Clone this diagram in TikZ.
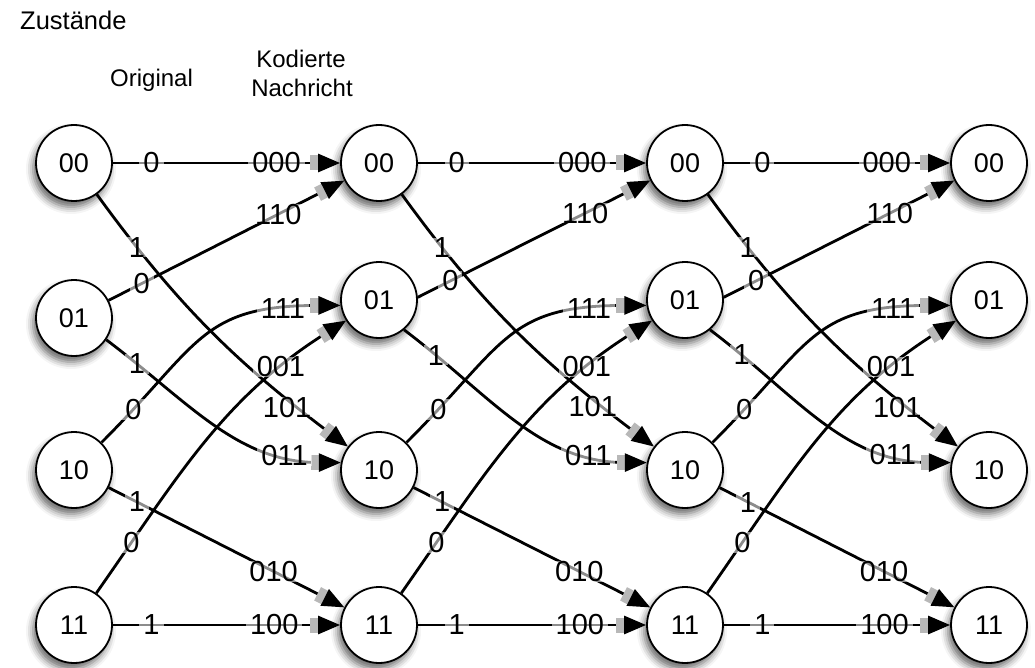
\documentclass[tikz,border=0pt]{standalone}
\usepackage{fontspec}
\setmainfont{Liberation Sans}
\usetikzlibrary{arrows.meta,shadows.blur}
\tikzset{
  state/.style={circle,draw=black,line width=1.8pt,fill=white,minimum size=76pt,inner sep=0pt,
    font=\fontsize{27}{28}\selectfont,
    blur shadow={shadow xshift=-3pt,shadow yshift=-6pt,shadow blur radius=7pt,shadow opacity=60}},
  edge/.style={line width=2.8pt,-{Rectangle[black!28,length=9pt,width=15pt,sep=-1pt]Triangle[length=22pt,width=18pt]}},
  lab/.style={fill=white,fill opacity=0.55,text opacity=1,inner xsep=4pt,inner ysep=0pt,
    font=\fontsize{29}{30}\selectfont},
  title/.style={inner sep=0pt}
}
\begin{document}
\begin{tikzpicture}[x=1pt,y=-1pt]
\useasboundingbox (0,0) rectangle (1035,668);
\node[title,anchor=base west,font=\fontsize{25.5}{28}\selectfont] (zust) at (20,30) {Zustände};
\node[title,anchor=base west,font=\fontsize{24}{26}\selectfont] (orig) at (110,87) {Original};
\node[title,anchor=base,font=\fontsize{24}{26}\selectfont] (kod1) at (301,68) {Kodierte};
\node[title,anchor=base,font=\fontsize{24}{26}\selectfont] (kod2) at (302,97) {Nachricht};
% states
\node[state] (a0) at (74,163) {00};
\node[state] (a1) at (74,318) {01};
\node[state] (a2) at (74,470) {10};
\node[state] (a3) at (74,625) {11};
\foreach \c/\x in {b/379,c/685,d/989} {
  \node[state] (\c0) at (\x,163) {00};
  \node[state] (\c1) at (\x,300) {01};
  \node[state] (\c2) at (\x,470) {10};
  \node[state] (\c3) at (\x,625) {11};
}
% transitions
\foreach \s/\t/\p/\q in {a/b/27/-34,b/c/4/-50,c/d/4/-50} {
  \draw[edge] (\s0) -- node[lab,pos=.17]{0} node[lab,pos=.72]{000} (\t0);
  \draw[edge] (\s0) to[out=-54,in=143] node[lab,pos=.17]{1} node[lab,pos=.8,yshift=-8pt]{101} (\t2);
  \draw[edge] (\s1.\p) -- node[lab,pos=.14]{0} node[lab,pos=.72]{110} (\t0);
  \draw[edge] (\s1.\q) to[out=-37,in=180] node[lab,pos=.13]{1} node[lab,pos=.8]{011} (\t2.169);
  \draw[edge] (\s2) to[out=45,in=180,looseness=1.3] node[lab,pos=.12]{0} node[lab,pos=.84]{111} (\t1.188);
  \draw[edge] (\s2) -- node[lab,pos=.12]{1} node[lab,pos=.7]{010} (\t3);
  \draw[edge] (\s3) to[out=55,in=212] node[lab,pos=.15]{0} node[lab,pos=.8]{001} (\t1);
  \draw[edge] (\s3) -- node[lab,pos=.17]{1} node[lab,pos=.71]{100} (\t3);
}
\end{tikzpicture}
\end{document}
